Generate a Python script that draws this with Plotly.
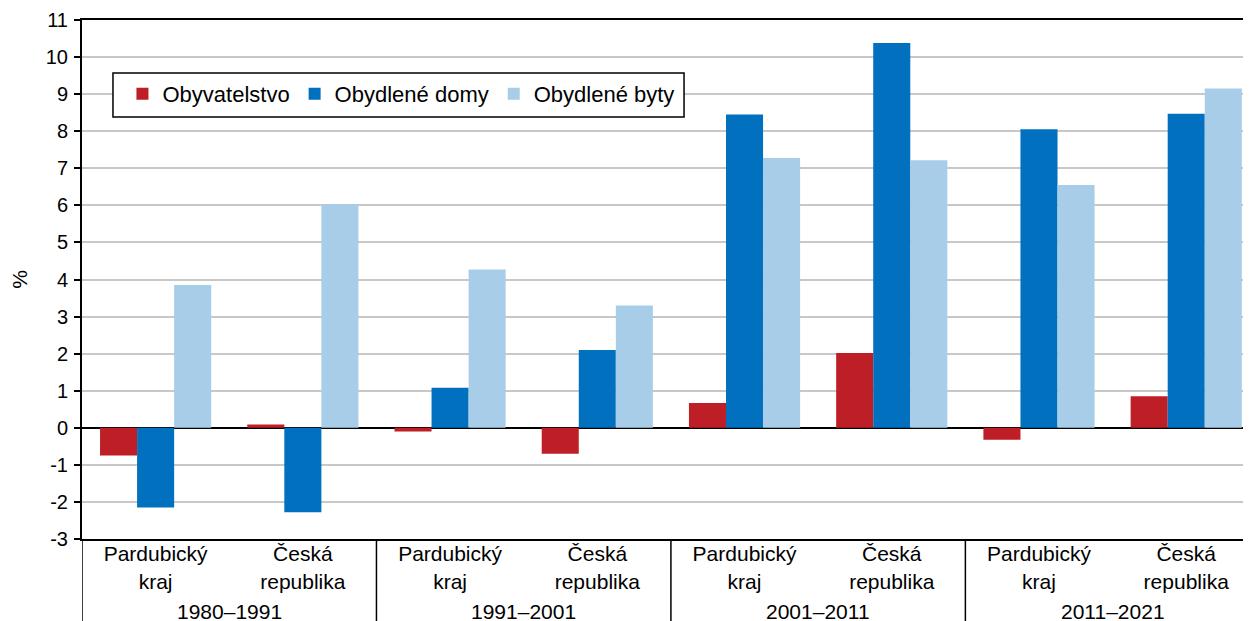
import plotly.graph_objects as go

periods = ["1980–1991", "1991–2001", "2001–2011", "2011–2021"]
regions = ["Pardubický<br>kraj", "Česká<br>republika"]

obyvatelstvo = [-0.75, 0.09, -0.1, -0.7, 0.67, 2.02, -0.32, 0.85]
domy = [-2.15, -2.28, 1.08, 2.1, 8.45, 10.38, 8.05, 8.47]
byty = [3.85, 6.03, 4.27, 3.3, 7.28, 7.22, 6.55, 9.15]

series = [
    ("Obyvatelstvo", obyvatelstvo, "#BE1E26"),
    ("Obydlené domy", domy, "#0070BF"),
    ("Obydlené byty", byty, "#A8CDE8"),
]

x_pos = list(range(len(periods) * len(regions)))
tick_text = regions * len(periods)

fig = go.Figure()
for name, vals, color in series:
    fig.add_trace(go.Bar(x=x_pos, y=vals, name=name, marker_color=color, marker_line_width=0))

family = "Liberation Sans, Arial, sans-serif"
font = dict(family=family, size=21, color="black")

# the page body has an 8px margin, so the margins are shifted to compensate
fig.update_layout(
    width=1251, height=621,
    margin=dict(l=74, r=8, t=12, b=90),
    barmode="group", bargap=0.245, bargroupgap=0,
    plot_bgcolor="white", paper_bgcolor="white",
    font=font,
    showlegend=True,
    legend=dict(
        orientation="h", x=0.0346, y=0.898, xanchor="left", yanchor="top",
        borderwidth=0, bgcolor="rgba(0,0,0,0)",
        font=dict(family=family, size=22, color="black"),
        itemwidth=30, traceorder="normal",
    ),
)

fig.update_xaxes(
    range=[-0.5, 7.44], tickvals=x_pos, ticktext=tick_text,
    tickfont=font, automargin=False, ticklabelstandoff=-5,
    showline=True, linecolor="black", linewidth=2, mirror=True,
    ticks="", showgrid=False, zeroline=False,
)
fig.update_yaxes(
    range=[-3, 11], tickvals=list(range(-3, 12)),
    ticktext=[str(v) for v in range(-3, 12)],
    tickfont=dict(family=family, size=20, color="black"),
    automargin=False, ticklabelstandoff=2,
    showline=True, linecolor="black", linewidth=2,
    ticks="outside", ticklen=6, tickcolor="black", tickwidth=1.5,
    showgrid=True, gridcolor="#C8C8C8", gridwidth=1.5,
    zeroline=True, zerolinecolor="black", zerolinewidth=1.5,
    title=dict(text="%", standoff=41, font=font),
)

# legend frame
fig.add_shape(type="rect", xref="paper", yref="paper", x0=0.0265, x1=0.515, y0=0.813, y1=0.898,
              line=dict(color="black", width=1.5), fillcolor="white", layer="above")

# group separators below the axis
bottom = -90 / 519
for xv in [-0.5, 1.5, 3.5, 5.5]:
    fig.add_shape(type="line", xref="x", yref="paper", x0=xv, x1=xv, y0=0, y1=bottom,
                  line=dict(color="black", width=1.5))

for i, p in enumerate(periods):
    fig.add_annotation(x=2 * i + 0.5, xref="x", y=-72 / 519, yref="paper",
                       text=p, showarrow=False, yanchor="middle", font=font)

fig.write_html("out.html")
